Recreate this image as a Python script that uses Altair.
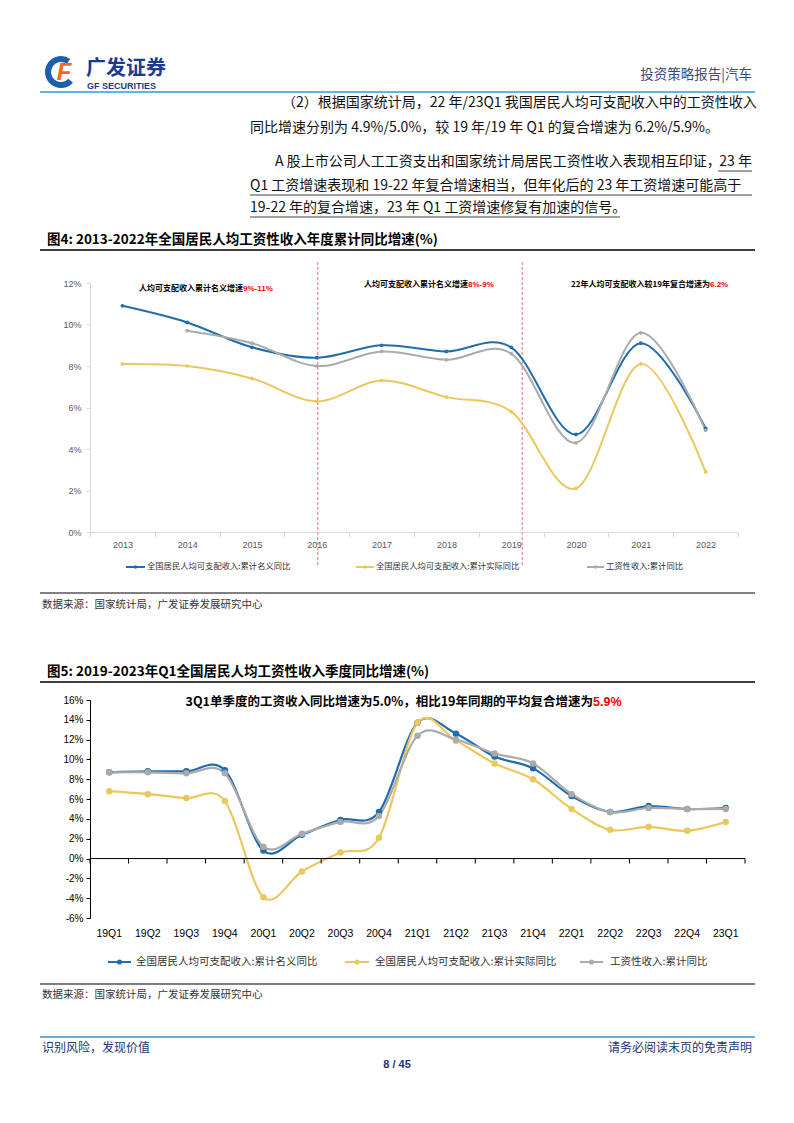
import altair as alt
import pandas as pd

# ---------------- data ----------------
years = ["2013", "2014", "2015", "2016", "2017", "2018", "2019", "2020", "2021", "2022"]
annual_nominal = [10.9, 10.1, 8.9, 8.4, 9.0, 8.7, 8.9, 4.7, 9.1, 5.0]
annual_real = [8.1, 8.0, 7.4, 6.3, 7.3, 6.5, 5.8, 2.1, 8.1, 2.9]
annual_wage = [None, 9.7, 9.1, 8.0, 8.7, 8.3, 8.6, 4.3, 9.6, 4.9]

quarters = ["19Q1", "19Q2", "19Q3", "19Q4", "20Q1", "20Q2", "20Q3", "20Q4", "21Q1",
            "21Q2", "21Q3", "21Q4", "22Q1", "22Q2", "22Q3", "22Q4", "23Q1"]
q_nominal = [8.7, 8.8, 8.8, 8.9, 0.8, 2.4, 3.9, 4.7, 13.7, 12.6, 10.3, 9.1, 6.3, 4.7, 5.3, 5.0, 5.1]
q_real = [6.8, 6.5, 6.1, 5.8, -3.9, -1.3, 0.6, 2.1, 13.7, 11.9, 9.6, 8.0, 5.0, 2.9, 3.2, 2.8, 3.7]
q_wage = [8.7, 8.7, 8.6, 8.6, 1.2, 2.5, 3.7, 4.3, 12.4, 12.0, 10.6, 9.6, 6.5, 4.7, 5.1, 5.0, 5.0]

series = ["全国居民人均可支配收入:累计名义同比", "全国居民人均可支配收入:累计实际同比", "工资性收入:累计同比"]
colors = ["#1F6CAE", "#EBC85E", "#ABABAB"]

y1_ticks = [0, 2, 4, 6, 8, 10, 12]
y2_ticks = [-6, -4, -2, 0, 2, 4, 6, 8, 10, 12, 14, 16]

# ---------------- texts ----------------
header_right = "投资策略报告|汽车"
para = [
    (282, 103, "（2）根据国家统计局，22 年/23Q1 我国居民人均可支配收入中的工资性收入"),
    (250, 128, "同比增速分别为 4.9%/5.0%，较 19 年/19 年 Q1 的复合增速为 6.2%/5.9%。"),
    (275, 162, "A 股上市公司人工工资支出和国家统计局居民工资性收入表现相互印证，"),
    (250, 186, "Q1 工资增速表现和 19-22 年复合增速相当，但年化后的 23 年工资增速可能高于"),
    (250, 208, "19-22 年的复合增速，23 年 Q1 工资增速修复有加速的信号。"),
]
para_tail = "23 年"
title4 = "图4: 2013-2022年全国居民人均工资性收入年度累计同比增速(%)"
title5 = "图5: 2019-2023年Q1全国居民人均工资性收入季度同比增速(%)"
source = "数据来源：国家统计局，广发证券发展研究中心"
ann1 = [("人均可支配收入累计名义增速", "9%-11%"), ("人均可支配收入累计名义增速", "8%-9%"),
        ("22年人均可支配收入较19年复合增速为", "6.2%")]
ann2 = ("3Q1单季度的工资收入同比增速为5.0%，相比19年同期的平均复合增速为", "5.9%")
footer_left = "识别风险，发现价值"
footer_right = "请务必阅读末页的免责声明"
page_no = "8 / 45"

# ---------------- layout ----------------
CJK = "Noto Sans CJK SC"
LAT = "Liberation Sans"
PX = 90                      # page x of both plot areas
T1, B1, R1 = 283, 532, 738   # chart 1 plot area (page coords)
T2, B2, R2 = 700, 918, 745   # chart 2 plot area
W1, H1 = R1 - PX, B1 - T1
W2, H2 = R2 - PX, B2 - T2

one = pd.DataFrame({"k": [0]})


def txt(top, x, y, s, size, color="#000000", weight="normal", align="left", font=CJK, italic=False):
    kw = dict(text=s, fontSize=size, color=color, fontWeight=weight, align=align,
              baseline="middle", font=font)
    if italic:
        kw["fontStyle"] = "italic"
    return alt.Chart(one).mark_text(**kw).encode(x=alt.value(x - PX), y=alt.value(y - top))


def hline(top, x1, x2, y, color, width=1.0):
    return alt.Chart(one).mark_rule(color=color, strokeWidth=width).encode(
        x=alt.value(x1 - PX), x2=alt.value(x2 - PX), y=alt.value(y - top))


def dot(top, x, y, color, size):
    return alt.Chart(one).mark_circle(color=color, size=size, opacity=1).encode(
        x=alt.value(x - PX), y=alt.value(y - top))


def legend(top, y, slots, fsize, dsize):
    out = []
    for name, col, (a, b, tx) in zip(series, colors, slots):
        out.append(hline(top, a, b, y, col, 2))
        out.append(dot(top, (a + b) / 2, y, col, dsize))
        out.append(txt(top, tx, y, name, fsize, color="#333333"))
    return out


def long(cats, key, arrays):
    rows = []
    for s, arr in zip(series, arrays):
        for c, v in zip(cats, arr):
            if v is not None:
                rows.append({key: c, "series": s, "value": v})
    return pd.DataFrame(rows)


color_enc = alt.Color("series:N", scale=alt.Scale(domain=series, range=colors), legend=None)

# ---------------- chart 1 ----------------
df1 = long(years, "year", [annual_nominal, annual_real, annual_wage])
xs1 = alt.Scale(type="band", domain=years, paddingInner=0, paddingOuter=0)
x1 = alt.X("year:N", sort=years, scale=xs1,
           axis=alt.Axis(title=None, labelAngle=0, tickBand="extent", domainColor="#D9D9D9",
                         tickColor="#D9D9D9", tickSize=5, labelColor="#595959", labelFont=LAT,
                         labelFontSize=9, labelPadding=3, labelOverlap=False, zindex=2))
y1 = alt.Y("value:Q", scale=alt.Scale(domain=[0, 12], nice=False, zero=False),
           axis=alt.Axis(title=None, values=y1_ticks, labelExpr="datum.value + '%'", grid=False,
                         domainColor="#D9D9D9", tickColor="#D9D9D9", tickSize=4,
                         labelColor="#595959", labelFont=LAT, labelFontSize=9, labelPadding=5,
                         labelOverlap=False, zindex=2))

page_rect = alt.Chart(one).mark_rect(color="white", opacity=0).encode(
    x=alt.value(8 - PX), x2=alt.value(786 - PX), y=alt.value(8 - T1), y2=alt.value(1115 - T1))

lines1 = alt.Chart(df1).mark_line(interpolate="cardinal", strokeWidth=2).encode(x=x1, y=y1, color=color_enc)
pts1 = alt.Chart(df1).mark_circle(size=14, opacity=1).encode(x=x1, y=y1, color=color_enc)

div_a = alt.Chart(pd.DataFrame({"year": ["2016"]})).mark_rule(
    color="#E8464B", strokeWidth=0.8, strokeDash=[3, 2], xOffset=1).encode(
    x=x1, y=alt.value(262 - T1), y2=alt.value(566 - T1))
div_b = alt.Chart(pd.DataFrame({"year": ["2019"]})).mark_rule(
    color="#E8464B", strokeWidth=0.8, strokeDash=[3, 2], xOffset=11).encode(
    x=x1, y=alt.value(262 - T1), y2=alt.value(566 - T1))

ann1_layers = []
for (blk, red), (xs, yy) in zip(ann1, [(243, 289), (468, 285), (710, 285)]):
    ann1_layers.append(txt(T1, xs, yy, blk, 8, weight="bold", align="right"))
    ann1_layers.append(txt(T1, xs, yy, red, 8, color="#FF0000", weight="bold", font=LAT))

logo = [
    alt.Chart(one).mark_arc(color="#1B5FAE", theta=2.3, theta2=6.9, radius=16, radius2=10).encode(
        x=alt.value(61 - PX), y=alt.value(72 - T1)),
    txt(T1, 64, 73, "F", 24, color="#F26B21", weight="bold", align="center", font=LAT, italic=True),
    txt(T1, 86, 69, "广发证券", 20, color="#1B3B8C", weight="bold"),
    txt(T1, 87, 86, "GF SECURITIES", 9, color="#1B3B8C", weight="bold", font=LAT),
]
header = logo + [
    hline(T1, 40, 755, 92, "#2E9BDE", 1.5),
    txt(T1, 752, 75, header_right, 13.5, color="#3D4B7A", align="right"),
]
for xx, yy, s in para:
    header.append(txt(T1, xx, yy, s, 14, color="#111111"))
header += [
    txt(T1, 752, 162, para_tail, 14, color="#111111", align="right"),
    hline(T1, 718, 752, 171, "#111111", 0.8),
    hline(T1, 250, 752, 195, "#111111", 0.8),
    hline(T1, 250, 620, 217, "#111111", 0.8),
    txt(T1, 47, 240, title4, 13.5, weight="bold"),
    hline(T1, 40, 755, 250, "#000000", 1.5),
    hline(T1, 40, 755, 593, "#000000", 1),
    txt(T1, 42, 605, source, 10.5, color="#333333"),
]

leg1 = legend(T1, 567, [(126, 145, 147), (356, 374, 376), (587, 604, 606)], 8.3, 12)

c1 = alt.layer(page_rect, *header, div_a, div_b, lines1, pts1, *ann1_layers, *leg1).properties(
    width=W1, height=H1)

# ---------------- chart 2 ----------------
df2 = long(quarters, "quarter", [q_nominal, q_real, q_wage])
xs2 = alt.Scale(type="band", domain=quarters, paddingInner=0, paddingOuter=0)
xaxis2 = alt.Axis(title=None, labelAngle=0, domain=False, ticks=False, labelColor="#000000",
                  labelFont=LAT, labelFontSize=10.5, labelPadding=10, labelOverlap=False,
                  bandPosition=0.5)
ys2 = alt.Scale(domain=[-6, 16], nice=False, zero=False)
yaxis2 = alt.Axis(title=None, values=y2_ticks, labelExpr="datum.value + '%'", grid=False,
                  domainColor="#000000", tickColor="#000000", tickSize=4,
                  labelColor="#000000", labelFont=LAT, labelFontSize=10, labelPadding=3,
                  labelOverlap=False)
x2 = alt.X("quarter:N", sort=quarters, scale=xs2, axis=xaxis2)
y2 = alt.Y("value:Q", scale=ys2, axis=yaxis2)

zdf = pd.DataFrame({"value": [0]})
zero = alt.Chart(zdf).mark_rule(color="#000000", strokeWidth=1).encode(
    x=alt.value(0), x2=alt.value(W2), y=y2)
qdf = pd.DataFrame({"quarter": quarters, "value": [0] * len(quarters)})
ticks_a = alt.Chart(qdf).mark_rule(color="#000000", strokeWidth=1, y2Offset=5).encode(
    x=alt.X("quarter:N", sort=quarters, scale=xs2, bandPosition=0, axis=xaxis2),
    y=y2, y2="value:Q")
ticks_b = alt.Chart(qdf.tail(1)).mark_rule(color="#000000", strokeWidth=1, y2Offset=5).encode(
    x=alt.X("quarter:N", sort=quarters, scale=xs2, bandPosition=1, axis=xaxis2),
    y=y2, y2="value:Q")

lines2 = alt.Chart(df2).mark_line(interpolate="cardinal", strokeWidth=2.2).encode(x=x2, y=y2, color=color_enc)
pts2 = alt.Chart(df2).mark_circle(size=42, opacity=1).encode(x=x2, y=y2, color=color_enc)

dec2 = [
    txt(T2, 47, 672, title5, 13.5, weight="bold"),
    hline(T2, 40, 755, 682, "#000000", 1.5),
    txt(T2, 593, 702, ann2[0], 12.5, weight="bold", align="right"),
    txt(T2, 593, 702, ann2[1], 12.5, color="#FF0000", weight="bold", font=LAT),
    hline(T2, 40, 755, 984, "#000000", 1),
    txt(T2, 42, 995, source, 10.5, color="#333333"),
    hline(T2, 40, 755, 1037, "#2E9BDE", 1.5),
    txt(T2, 42, 1048, footer_left, 12, color="#23356E"),
    txt(T2, 752, 1048, footer_right, 12, color="#23356E", align="right"),
    txt(T2, 397, 1065, page_no, 11, color="#23356E", weight="bold", align="center", font=LAT),
]
leg2 = legend(T2, 962, [(108, 131, 136), (345, 369, 375), (580, 603, 610)], 10.5, 26)

c2 = alt.layer(lines2, pts2, zero, ticks_a, ticks_b, *dec2, *leg2).properties(width=W2, height=H2)

chart = alt.vconcat(c1, c2, spacing=T2 - B1, bounds="flush").properties(
    padding=0).configure_view(strokeWidth=0)

chart.save("out.html", embed_options={"renderer": "svg", "actions": False})
